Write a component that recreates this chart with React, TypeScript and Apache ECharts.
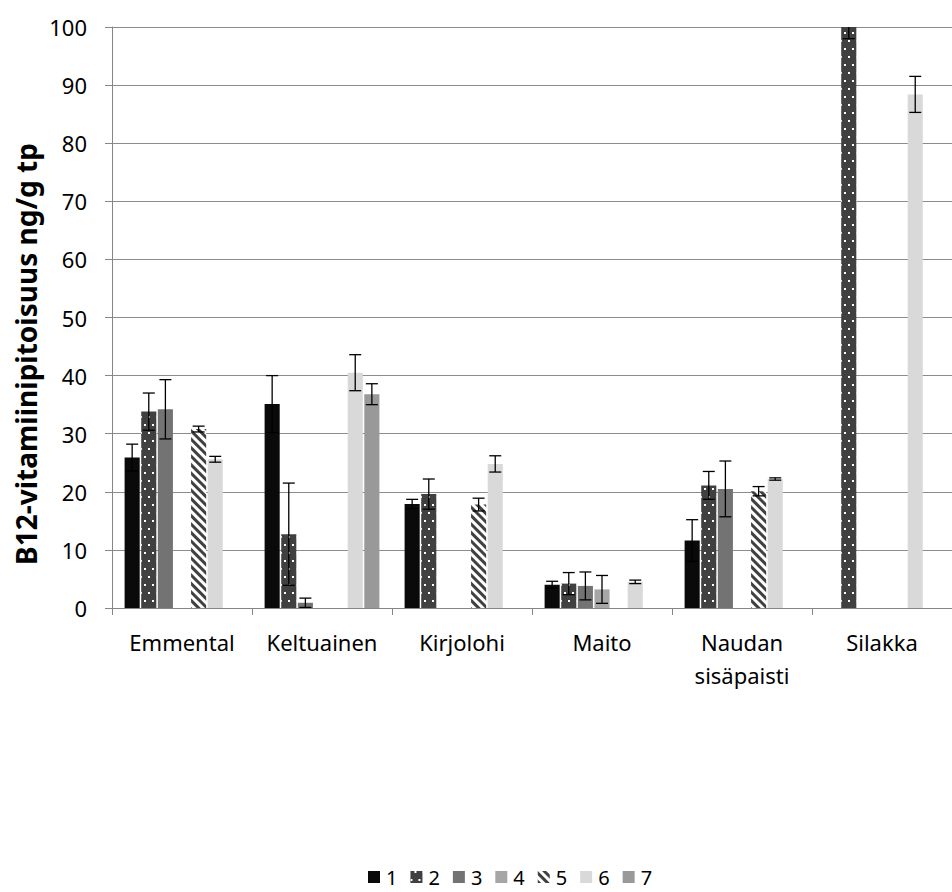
import React, { useEffect, useRef } from "react";
import * as echarts from "echarts";

const categories = ["Emmental", "Keltuainen", "Kirjolohi", "Maito", "Naudan\nsisäpaisti", "Silakka"];
const seriesNames = ["1", "2", "3", "4", "5", "6", "7"];
const s1 = [25.9, 35.1, 17.9, 4.0, 11.6, null];
const e1 = [2.3, 4.9, 0.8, 0.6, 3.6, null];
const s2 = [33.8, 12.7, 19.6, 4.2, 21.1, 105];
const e2 = [3.2, 8.8, 2.6, 1.9, 2.4, 7];
const s3 = [34.2, 0.9, null, 3.8, 20.5, null];
const e3 = [5.1, 0.8, null, 2.4, 4.8, null];
const s4 = [null, null, null, 3.2, null, null];
const e4 = [null, null, null, 2.4, null, null];
const s5 = [30.8, null, 17.8, null, 20.1, null];
const e5 = [0.5, null, 1.1, null, 0.8, null];
const s6 = [25.6, 40.5, 24.8, 4.5, 22.2, 88.4];
const e6 = [0.5, 3.1, 1.4, 0.3, 0.2, 3.1];
const s7 = [null, 36.8, null, null, null, null];
const e7 = [null, 1.8, null, null, null, null];
const yTicks = { min: 0, max: 100, interval: 10 };

const values = [s1, s2, s3, s4, s5, s6, s7];
const errors = [e1, e2, e3, e4, e5, e6, e7];

const FONT = "Noto Sans";
const CAT_GAP = 0.18;
const BAR_GAP = 0.1;

export default function App() {
  const ref = useRef<HTMLDivElement>(null);
  useEffect(() => {
    document.body.style.margin = "0";
    const chart = echarts.init(ref.current!, null, { renderer: "svg" });

    const colors = ["#0a0a0a", "#404040", "#737373", "#a6a6a6", "#ffffff", "#d9d9d9", "#999999"];
    const decals: any[] = [
      null,
      {
        symbol: "rect",
        symbolSize: 1,
        color: "#ffffff",
        dashArrayX: [[2, 6], [0, 4, 2, 2]],
        dashArrayY: [2, 6],
      },
      null,
      null,
      {
        symbol: "rect",
        symbolSize: 1,
        color: "#404040",
        dashArrayX: [1, 0],
        dashArrayY: [3, 3],
        rotation: Math.PI / 4,
      },
      null,
      null,
    ];

    const barSeries = values.map((vals, i) => ({
      type: "bar",
      name: seriesNames[i],
      data: vals.map((v) => (v === null ? "-" : v)),
      barCategoryGap: "18%",
      barGap: "10%",
      itemStyle: decals[i]
        ? { color: colors[i], decal: decals[i] }
        : { color: colors[i] },
      clip: true,
    }));

    const errData: any[] = [];
    values.forEach((vals, si) => {
      vals.forEach((v, ci) => {
        const e = errors[si][ci];
        if (v !== null && e !== null) errData.push([ci, v - (e as number), v + (e as number), si]);
      });
    });

    const n = values.length;
    const option: any = {
      animation: false,
      backgroundColor: "#ffffff",
      grid: { left: 112, top: 27, width: 849, height: 581 },
      legend: {
        left: 368,
        top: 866,
        icon: "rect",
        itemWidth: 12,
        itemHeight: 12,
        itemGap: 13,
        padding: 0,
        textStyle: { fontFamily: FONT, fontSize: 20, lineHeight: 22, color: "#000", padding: [0, 0, 0, 1] },
        data: seriesNames,
      },
      xAxis: {
        type: "category",
        data: categories,
        axisLine: { lineStyle: { color: "#868686", width: 1 } },
        axisTick: { show: true, length: 7, lineStyle: { color: "#868686" } },
        axisLabel: {
          fontFamily: FONT,
          fontSize: 22,
          color: "#000",
          margin: 17,
          lineHeight: 33,
          interval: 0,
        },
      },
      yAxis: {
        type: "value",
        min: yTicks.min,
        max: yTicks.max,
        interval: yTicks.interval,
        axisLine: { show: true, lineStyle: { color: "#868686", width: 1 } },
        axisTick: { show: true, length: 7, lineStyle: { color: "#868686" } },
        axisLabel: { fontFamily: FONT, fontSize: 22, color: "#000", margin: 25 },
        splitLine: { lineStyle: { color: "#8c8c8c", width: 1 } },
      },
      graphic: [
        {
          type: "text",
          x: 26,
          y: 354,
          rotation: Math.PI / 2,
          style: {
            text: "B12-vitamiinipitoisuus ng/g tp",
            fontFamily: FONT,
            fontWeight: "bold",
            fontSize: 28,
            fill: "#000",
            align: "center",
            verticalAlign: "middle",
          },
        },
      ],
      series: [
        ...barSeries,
        {
          type: "custom",
          name: "err",
          clip: true,
          z: 5,
          encode: { x: 0, y: [1, 2] },
          data: errData,
          renderItem: (params: any, api: any) => {
            const ci = api.value(0);
            const lo = api.value(1);
            const hi = api.value(2);
            const si = api.value(3);
            const c = api.coord([ci, 0]);
            const band = api.size([1, 0])[0];
            const avail = band * (1 - CAT_GAP);
            const bw = avail / (n + (n - 1) * BAR_GAP);
            const x = c[0] - avail / 2 + si * bw * (1 + BAR_GAP) + bw / 2;
            const yLo = api.coord([ci, lo])[1];
            const yHi = api.coord([ci, hi])[1];
            const cap = 6;
            const st = { stroke: "#000", lineWidth: 1.3 };
            return {
              type: "group",
              children: [
                { type: "line", shape: { x1: x, y1: yLo, x2: x, y2: yHi }, style: st },
                { type: "line", shape: { x1: x - cap, y1: yLo, x2: x + cap, y2: yLo }, style: st },
                { type: "line", shape: { x1: x - cap, y1: yHi, x2: x + cap, y2: yHi }, style: st },
              ],
            };
          },
        },
      ],
    };
    chart.setOption(option);
    return () => chart.dispose();
  }, []);
  return <div ref={ref} style={{ width: 952, height: 892 }} />;
}
